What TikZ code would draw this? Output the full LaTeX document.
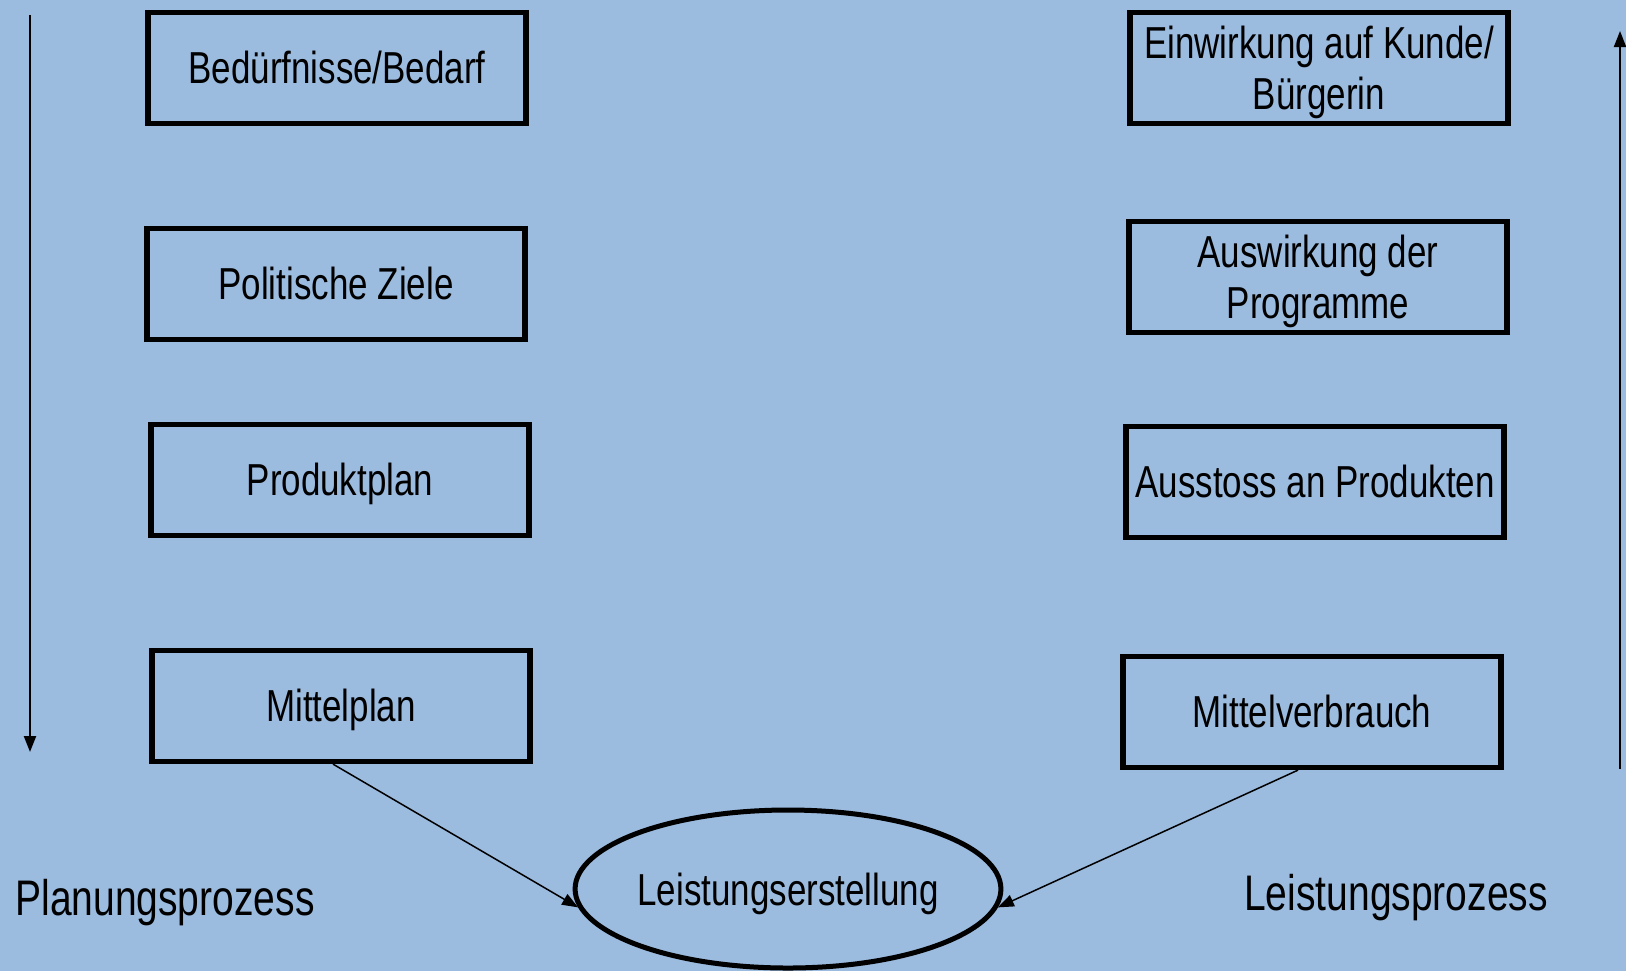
\documentclass[tikz,border=0pt]{standalone}
\usepackage{fontspec}
\setmainfont{Liberation Sans}[FakeStretch=0.78]
\usetikzlibrary{shapes.geometric,arrows.meta}
\definecolor{bgblue}{RGB}{155,187,223}
\begin{document}
\begin{tikzpicture}[x=0.5pt,y=-0.5pt,
  box/.style={draw=black,line width=2.6pt,rectangle,minimum width=189pt,minimum height=55.5pt,inner sep=0pt,align=center,font=\fontsize{22.4}{25.5}\selectfont},
  onebox/.style={box,text height=15.6pt,text depth=0pt},
  ell/.style={draw=black,line width=2.5pt,ellipse,minimum width=203pt,minimum height=79pt,inner sep=0pt,text height=16pt,text depth=0pt,font=\fontsize{22.4}{25.5}\selectfont},
  lbl/.style={inner sep=0pt,text height=18pt,text depth=0pt,font=\fontsize{25}{26}\selectfont},
  conn/.style={draw=black,line width=0.75pt,-{Triangle[length=8pt,width=6pt]}},
  side/.style={draw=black,line width=1.1pt,-{Triangle[length=8pt,width=6pt]}}]
\fill[bgblue] (0,0) rectangle (1626,971);
\useasboundingbox (0,0) rectangle (1626,971);
% left column
\node[onebox] (b1) at (337,68) {Bedürfnisse/Bedarf};
\node[onebox] (b2) at (336,284) {Politische Ziele};
\node[onebox] (b3) at (340,480) {Produktplan};
\node[onebox] (b4) at (341,706) {Mittelplan};
% right column
\node[box] (r1) at (1319,68) {Einwirkung auf Kunde/\\\smash{Bürgerin}};
\node[box] (r2) at (1318,277) {Auswirkung der\\\smash{Programme}};
\node[onebox] (r3) at (1315,482) {Ausstoss an Produkten};
\node[onebox] (r4) at (1312,712) {Mittelverbrauch};
% ellipse
\node[ell] (e) at (788,889) {Leistungserstellung};
% labels
\node[lbl] (pl) at (165,897) {Planungsprozess};
\node[lbl] (lp) at (1396,892) {Leistungsprozess};
% side arrows
\coordinate (lt) at (30,15);
\coordinate (lb) at (30,752);
\coordinate (rt) at (1620,31);
\coordinate (rb) at (1620,769);
\draw[side] (lt) -- (lb);
\draw[side] (rb) -- (rt);
% connectors
\draw[conn] ([xshift=-4pt]b4.south) -- (e.185);
\draw[conn] ([xshift=-7pt]r4.south) -- (e.-5);
\end{tikzpicture}
\end{document}
